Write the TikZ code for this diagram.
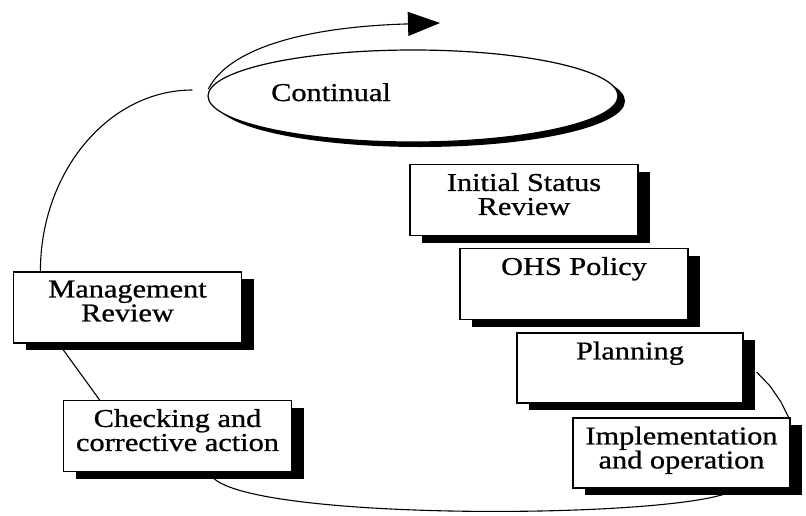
\documentclass[tikz,border=0pt]{standalone}
\usepackage{fontspec}
\setmainfont{Liberation Serif}[FakeStretch=1.18, FakeBold=0.8]
\usetikzlibrary{shapes.geometric,shadows,arrows.meta,calc,backgrounds}

\begin{document}
\begin{tikzpicture}[x=1pt,y=-1pt,
  card/.style={draw, line width=1.2pt, fill=white, inner sep=0pt,
    minimum width=228pt, minimum height=71pt,
    drop shadow={shadow xshift=12pt, shadow yshift=-7pt, fill=black, opacity=1}},
  lbl/.style={font=\fontsize{25.7}{24}\selectfont, align=center, inner sep=0pt, anchor=north},
  link/.style={line width=1.1pt},
  loopcircle/.style={ellipse, draw, line width=1.2pt, fill=white,
    minimum width=410pt, minimum height=92pt, inner sep=0pt,
    drop shadow={shadow xshift=7pt, shadow yshift=-5pt, fill=black, opacity=1}}
]
\useasboundingbox (0,0) rectangle (806,515);

% the improvement cycle
\node[loopcircle] (cont) at (413,96) {};
\node[font=\fontsize{25.7}{24}\selectfont, inner sep=0pt, anchor=base] (contlbl) at (331,101) {Continual};

% steps down the right-hand side
\node[card] (isr)  at (524,200) {};
\node[lbl]  (isrt) at ([yshift=-9pt]isr.north) {Initial Status\\Review};
\node[card] (ohs)  at (574,284) {};
\node[lbl]  (ohst) at ([yshift=-9pt]ohs.north) {OHS Policy};
\node[card, minimum width=226pt, minimum height=70pt] (plan) at (630,368) {};
\node[lbl]  (plant) at ([yshift=-9pt]plan.north) {Planning};
\node[card, minimum width=217pt, minimum height=70pt] (impl) at (681.5,453) {};
\node[lbl]  (implt) at ([yshift=-9pt]impl.north) {Implementation\\and operation};

% steps back up the left-hand side
\node[card] (check) at (177.5,436) {};
\node[lbl]  (checkt) at ([yshift=-9pt]check.north) {Checking and\\corrective action};
\node[card] (mgmt) at (127.5,307.5) {};
\node[lbl]  (mgmtt) at ([yshift=-9pt]mgmt.north) {Management\\Review};

% end points of the connectors
\coordinate (arrowend) at (440,23);
\coordinate (arcstart) at ($(cont.west)+(-15,-6)$);

\begin{pgfonlayer}{background}
  % arrow leaving the ellipse
  \draw[link, -{Triangle[length=32pt,width=24pt]}]
    ($(cont.west)+(1,-7)$) .. controls (228,50) and (300,27) .. (arrowend);
  % arc from the ellipse down to management review
  \draw[link] (arcstart) .. controls (109,90) and ($(mgmt.north west)!0.12!(mgmt.north east)+(0,-100)$)
    .. ($(mgmt.north west)!0.12!(mgmt.north east)$);
  % management review to checking
  \draw[link] ($(mgmt.south west)!0.2!(mgmt.south east)$) -- ($(check.north west)!0.16!(check.north east)$);
  % checking round the bottom to implementation
  \draw[link] ($(check.south west)!0.64!(check.south east)$)
    .. controls (222,523) and (700,520) .. ($(impl.south west)!0.75!(impl.south east)$);
  % planning to implementation
  \draw[link] ($(plan.east)+(13,4)$) -- (770,386) -- (781,402) -- ($(impl.north east)+(-2,0)$);
\end{pgfonlayer}
\end{tikzpicture}
\end{document}
